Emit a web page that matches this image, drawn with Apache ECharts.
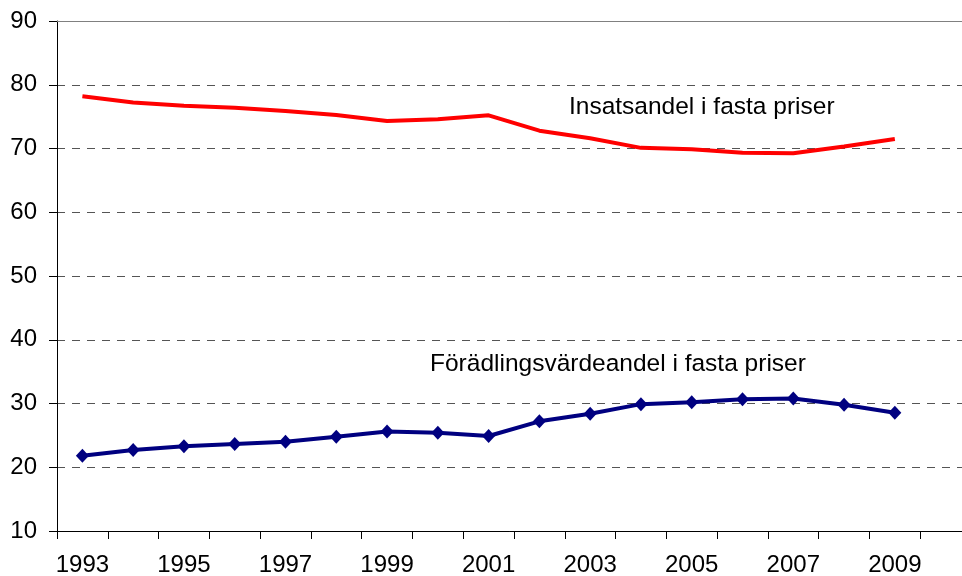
<!DOCTYPE html>
<html>
<head>
<meta charset="utf-8">
<style>
  html, body { margin: 0; padding: 0; background: #fff; overflow: hidden; }
  #chart { width: 962px; height: 576px; }
</style>
<script src="https://cdn.jsdelivr.net/npm/echarts@6/dist/echarts.min.js"></script>
</head>
<body>
<div id="chart"></div>
<script>
// Years shown on the horizontal axis
const years = ['1993', '1994', '1995', '1996', '1997', '1998', '1999', '2000', '2001',
               '2002', '2003', '2004', '2005', '2006', '2007', '2008', '2009'];
// Input share at fixed prices (%)
const insatsandel = [78.2, 77.2, 76.7, 76.4, 75.9, 75.25, 74.3, 74.6, 75.2,
                     72.8, 71.6, 70.1, 69.9, 69.35, 69.25, 70.3, 71.5];
// Value-added share at fixed prices (%)
const foradlingsvarde = [21.8, 22.7, 23.3, 23.65, 24.0, 24.8, 25.6, 25.4, 24.9,
                         27.2, 28.4, 29.9, 30.2, 30.65, 30.8, 29.8, 28.55];
// Value axis range
const yMin = 10, yMax = 90, yStep = 10;

// One trailing empty slot keeps the plot running on past the last year
const categories = years.concat(['']);

const font = '"Liberation Sans", Arial, sans-serif';
const chart = echarts.init(document.getElementById('chart'), null, { renderer: 'canvas' });

chart.setOption({
  animation: false,
  backgroundColor: '#ffffff',
  grid: {
    left: 57, width: 914, top: 21, height: 510,
    containLabel: false,
    outerBoundsMode: 'none'
  },
  xAxis: [
    {
      type: 'category',
      data: categories,
      boundaryGap: true,
      axisLine: { lineStyle: { color: '#000', width: 1 } },
      axisTick: { show: true, interval: 0, length: 8, lineStyle: { color: '#000' } },
      axisLabel: { interval: 1, margin: 22, color: '#000', fontSize: 24, fontFamily: font },
      splitLine: { show: false }
    },
    {
      type: 'category',
      data: categories,
      position: 'top',
      axisLine: { lineStyle: { color: '#808080', width: 1 } },
      axisTick: { show: false },
      axisLabel: { show: false },
      splitLine: { show: false }
    }
  ],
  yAxis: {
    type: 'value',
    min: yMin,
    max: yMax,
    interval: yStep,
    axisLine: { show: true, lineStyle: { color: '#000', width: 1 } },
    axisTick: { show: true, length: 8, lineStyle: { color: '#000' } },
    axisLabel: { margin: 20, color: '#000', fontSize: 24, fontFamily: font },
    splitLine: { show: true, lineStyle: { color: '#555', width: 1, type: [8, 7] } }
  },
  series: [
    {
      name: 'Insatsandel i fasta priser',
      type: 'line',
      data: insatsandel,
      showSymbol: false,
      symbol: 'none',
      lineStyle: { color: '#ff0000', width: 4 },
      itemStyle: { color: '#ff0000' }
    },
    {
      name: 'Förädlingsvärdeandel i fasta priser',
      type: 'line',
      data: foradlingsvarde,
      symbol: 'diamond',
      symbolSize: [13, 14],
      lineStyle: { color: '#000080', width: 4 },
      itemStyle: { color: '#000080' }
    }
  ],
  graphic: [
    {
      type: 'text',
      left: 569,
      top: 95,
      style: { text: 'Insatsandel i fasta priser', fill: '#000', font: '24.5px ' + font }
    },
    {
      type: 'text',
      left: 430,
      top: 352,
      style: { text: 'Förädlingsvärdeandel i fasta priser', fill: '#000', font: '24.5px ' + font }
    }
  ]
});
</script>
</body>
</html>
